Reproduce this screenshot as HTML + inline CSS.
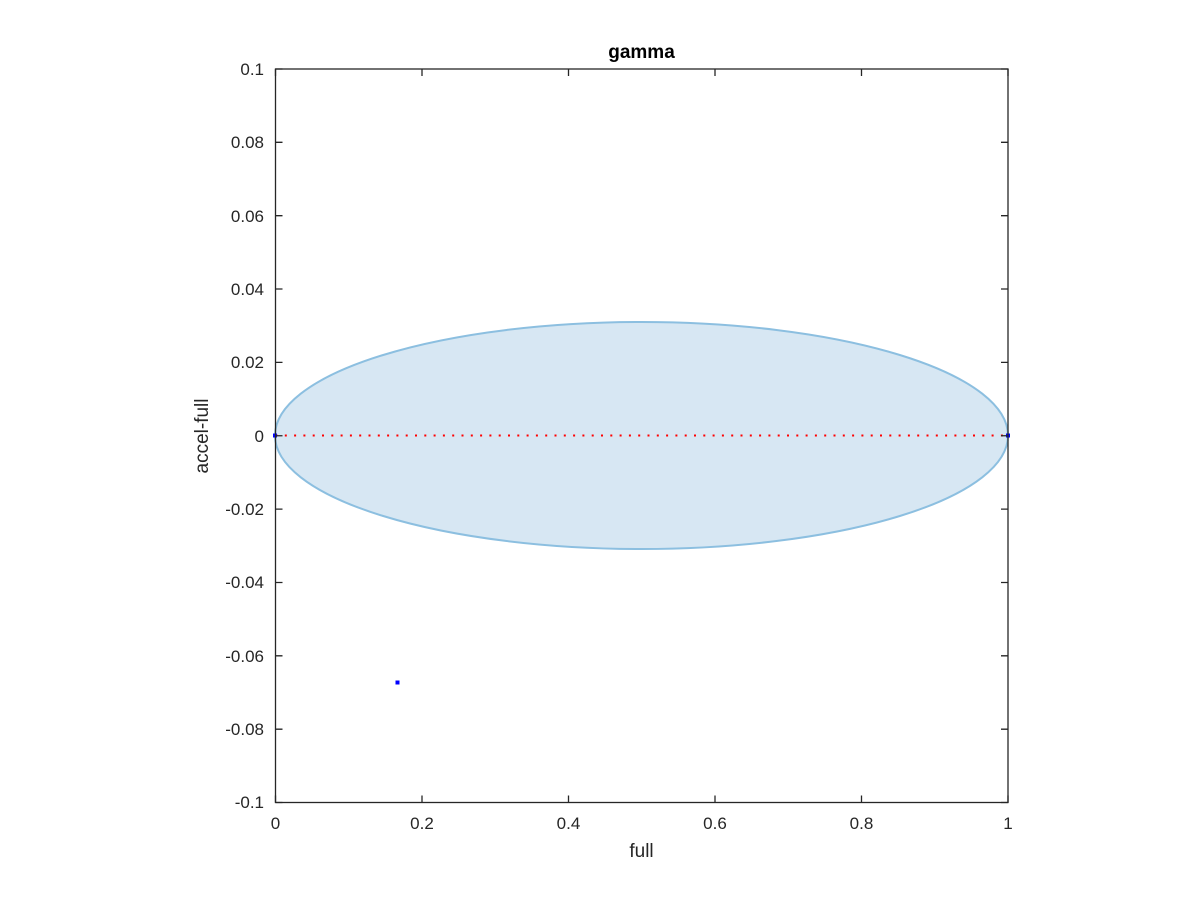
<!DOCTYPE html>
<html><head><style>body{margin:0;background:#fff}svg{display:block}</style></head><body>
<svg width="1200" height="900" xmlns="http://www.w3.org/2000/svg" font-family="Liberation Sans, sans-serif">
<rect width="1200" height="900" fill="#fff"/>
<ellipse cx="641.5" cy="435.5" rx="366.5" ry="113.5" fill="#d7e7f3" stroke="#8cbfe0" stroke-width="2"/>
<line x1="275.5" y1="435.5" x2="1008" y2="435.5" stroke="#ff0000" stroke-width="2" stroke-dasharray="2,7.3"/>
<rect x="273" y="433.5" width="4" height="4" fill="#0000ff"/>
<rect x="1006" y="433.5" width="4" height="4" fill="#0000ff"/>
<rect x="395.5" y="680.5" width="4" height="4" fill="#0000ff"/>
<g stroke="#262626" stroke-width="1.3" fill="none">
<rect x="275.5" y="69" width="732.5" height="733.5"/>
<path d="M275.5,802.5v-7M422,802.5v-7M568.5,802.5v-7M715,802.5v-7M861.5,802.5v-7M1008,802.5v-7
M275.5,69v7M422,69v7M568.5,69v7M715,69v7M861.5,69v7M1008,69v7
M275.5,69h7M275.5,142.3h7M275.5,215.7h7M275.5,289h7M275.5,362.4h7M275.5,435.75h7M275.5,509.1h7M275.5,582.5h7M275.5,655.8h7M275.5,729.2h7M275.5,802.5h7
M1008,69h-7M1008,142.3h-7M1008,215.7h-7M1008,289h-7M1008,362.4h-7M1008,435.75h-7M1008,509.1h-7M1008,582.5h-7M1008,655.8h-7M1008,729.2h-7M1008,802.5h-7"/>
</g>
<g font-size="17" fill="#262626" text-anchor="middle">
<text x="275.5" y="829">0</text><text x="422" y="829">0.2</text><text x="568.5" y="829">0.4</text><text x="715" y="829">0.6</text><text x="861.5" y="829">0.8</text><text x="1008" y="829">1</text>
<text x="641.5" y="857" font-size="19">full</text>
</g>
<g font-size="17" fill="#262626" text-anchor="end">
<text x="264" y="75">0.1</text><text x="264" y="148">0.08</text><text x="264" y="222">0.06</text><text x="264" y="295">0.04</text><text x="264" y="368">0.02</text><text x="264" y="442">0</text><text x="264" y="515">-0.02</text><text x="264" y="588">-0.04</text><text x="264" y="662">-0.06</text><text x="264" y="735">-0.08</text><text x="264" y="808">-0.1</text>
</g>
<text transform="translate(208,436) rotate(-90)" font-size="19" fill="#262626" text-anchor="middle">accel-full</text>
<text x="641.5" y="58" font-size="19" font-weight="bold" text-anchor="middle" fill="#000">gamma</text>
</svg>
</body></html>
